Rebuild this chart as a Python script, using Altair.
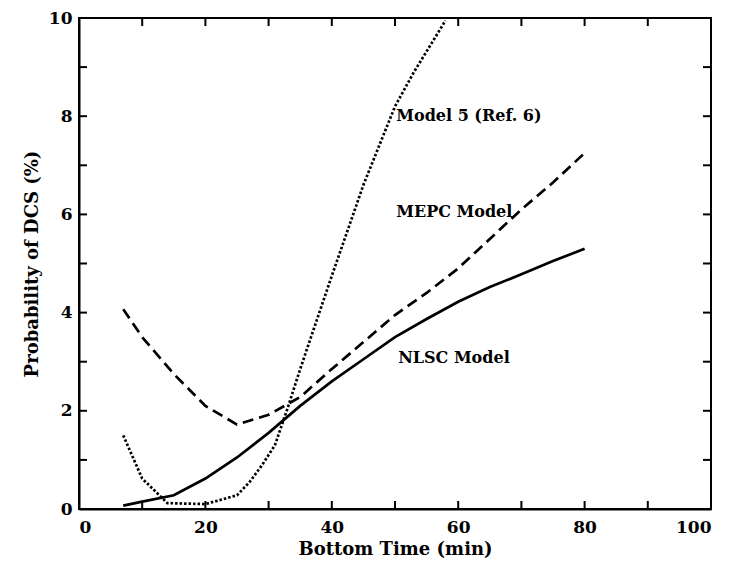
import altair as alt
import pandas as pd

# ---- data ----
nlsc_t = [7, 10, 15, 20, 25, 30, 35, 40, 45, 50, 55, 60, 65, 70, 75, 80]
nlsc_p = [0.07, 0.15, 0.28, 0.62, 1.05, 1.55, 2.1, 2.6, 3.05, 3.5, 3.87, 4.22, 4.52, 4.78, 5.05, 5.3]

mepc_t = [7, 10, 15, 20, 25, 30, 35, 40, 45, 50, 55, 60, 65, 70, 75, 80]
mepc_p = [4.07, 3.5, 2.75, 2.1, 1.72, 1.92, 2.28, 2.85, 3.4, 3.95, 4.4, 4.9, 5.5, 6.1, 6.65, 7.25]

m5_t = [7, 10, 14, 20, 25, 27, 29, 31, 33, 35, 40, 45, 50, 53, 58]
m5_p = [1.5, 0.62, 0.12, 0.1, 0.28, 0.55, 0.9, 1.3, 2.05, 2.85, 4.75, 6.6, 8.2, 8.9, 9.95]

label_text = ["Model 5 (Ref. 6)", "MEPC Model", "NLSC Model"]
label_t = [50.2, 50.2, 50.5]
label_p = [8.0, 6.05, 3.07]

x_tick_values = [0, 10, 20, 30, 40, 50, 60, 70, 80, 90, 100]
y_tick_values = [0, 1, 2, 3, 4, 5, 6, 7, 8, 9, 10]
x_label_values = [0, 20, 40, 60, 80, 100]
y_label_values = [0, 2, 4, 6, 8, 10]

W, H = 632, 491
TICK = 8
FONT = "DejaVu Serif"

x_scale = alt.Scale(domain=[0, 100], nice=False)
y_scale = alt.Scale(domain=[0, 10], nice=False)
x_axis = alt.Axis(title="Bottom Time (min)", values=x_label_values, format="d")
y_axis = alt.Axis(title="Probability of DCS (%)", values=y_label_values, format="d")


def X(field):
    return alt.X(f"{field}:Q", scale=x_scale, axis=x_axis)


def Y(field):
    return alt.Y(f"{field}:Q", scale=y_scale, axis=y_axis)


def series(ts, ps, dash=None):
    df = pd.DataFrame({"t": ts, "p": ps})
    kw = dict(color="black", strokeWidth=2.7, clip=True)
    if dash is not None:
        kw["strokeDash"] = dash
    return alt.Chart(df).mark_line(**kw).encode(x=X("t"), y=Y("p"))


nlsc = series(nlsc_t, nlsc_p)
mepc = series(mepc_t, mepc_p, [11, 6])
m5 = series(m5_t, m5_p, [2.5, 2])

xt = pd.DataFrame({"v": x_tick_values})
yt = pd.DataFrame({"v": y_tick_values})
tick_style = dict(color="black", strokeWidth=2)
x_ticks_bottom = alt.Chart(xt).mark_rule(**tick_style).encode(
    x=X("v"), y=alt.value(H), y2=alt.value(H - TICK))
x_ticks_top = alt.Chart(xt).mark_rule(**tick_style).encode(
    x=X("v"), y=alt.value(0), y2=alt.value(TICK))
y_ticks_left = alt.Chart(yt).mark_rule(**tick_style).encode(
    y=Y("v"), x=alt.value(0), x2=alt.value(TICK))
y_ticks_right = alt.Chart(yt).mark_rule(**tick_style).encode(
    y=Y("v"), x=alt.value(W), x2=alt.value(W - TICK))

labels_df = pd.DataFrame({"t": label_t, "p": label_p, "txt": label_text})
labels = alt.Chart(labels_df).mark_text(
    align="left", baseline="middle", font=FONT, fontWeight="bold",
    fontSize=16, color="black").encode(x=X("t"), y=Y("p"), text="txt:N")

chart = alt.layer(
    x_ticks_bottom, x_ticks_top, y_ticks_left, y_ticks_right,
    nlsc, mepc, m5, labels
).properties(
    width=W, height=H,
    autosize=alt.AutoSizeParams(type="none"),
    padding={"left": 71, "top": 10, "right": 13, "bottom": 53},
    background="white",
).configure_view(
    stroke="black", strokeWidth=2
).configure_axis(
    grid=False, domain=True, domainColor="black", domainWidth=2,
    ticks=False, labelFont=FONT, labelFontWeight="bold", labelFontSize=17,
    labelColor="black", titleFont=FONT, titleFontWeight="bold",
    titleFontSize=18, titleColor="black"
).configure_axisX(
    labelPadding=10, titlePadding=5
).configure_axisY(
    labelPadding=7, titlePadding=7
)

chart.save("out.html", embed_options={"renderer": "svg", "actions": False})
